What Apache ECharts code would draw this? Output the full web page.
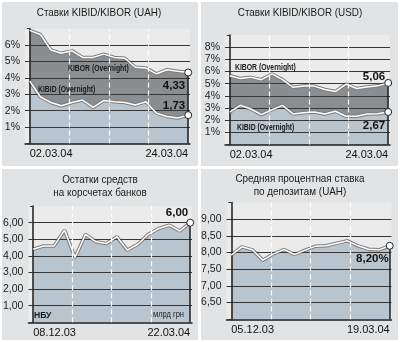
<!DOCTYPE html>
<html><head><meta charset="utf-8">
<script src="https://cdn.jsdelivr.net/npm/echarts@6/dist/echarts.min.js"></script>
<style>html,body{margin:0;padding:0;background:#fff}#c{width:400px;height:342px}</style>
</head><body><div id="c"></div>
<script>
// ---- data ----
const uahDates = ['02.03.04','03.03.04','04.03.04','05.03.04','09.03.04','10.03.04','11.03.04','12.03.04','15.03.04','16.03.04','17.03.04','18.03.04','19.03.04','22.03.04','23.03.04','24.03.04'];
const uahKibor = [6.9, 6.65, 5.7, 5.5, 5.65, 5.25, 5.25, 5.45, 5.25, 5.2, 4.65, 4.6, 4.25, 4.5, 4.4, 4.33];
const uahKibid = [3.8, 2.85, 2.5, 2.3, 2.5, 2.65, 2.2, 2.62, 2.55, 2.5, 2.35, 2.55, 1.85, 1.65, 1.55, 1.73];

const usdDates = ['02.03.04','03.03.04','04.03.04','05.03.04','09.03.04','10.03.04','11.03.04','12.03.04','15.03.04','16.03.04','17.03.04','18.03.04','19.03.04','22.03.04','23.03.04','24.03.04'];
const usdKibor = [5.65, 5.42, 5.52, 5.33, 5.8, 5.33, 4.7, 4.8, 4.8, 4.52, 4.35, 4.97, 4.6, 4.72, 4.82, 5.06];
const usdKibid = [2.67, 3.22, 2.92, 2.45, 2.86, 3.22, 2.51, 2.6, 2.67, 2.51, 2.73, 2.32, 2.32, 2.5, 2.52, 2.67];

const balDates = ['08.12.03','15.12.03','22.12.03','29.12.03','05.01.04','12.01.04','19.01.04','26.01.04','02.02.04','09.02.04','16.02.04','23.02.04','01.03.04','08.03.04','15.03.04','22.03.04'];
const balValues = [4.4, 4.6, 4.6, 5.55, 3.9, 5.3, 4.85, 4.75, 5.15, 4.35, 4.7, 5.3, 5.65, 5.85, 5.5, 6.00];

const depDates = ['05.12.03','12.12.03','19.12.03','26.12.03','02.01.04','09.01.04','16.01.04','23.01.04','30.01.04','06.02.04','13.02.04','20.02.04','27.02.04','05.03.04','12.03.04','19.03.04'];
const depValues = [7.92, 8.17, 8.08, 7.77, 7.96, 8.09, 7.94, 8.07, 8.19, 8.2, 8.28, 8.35, 8.2, 8.1, 8.08, 8.20];

const titles = ['Ставки KIBID/KIBOR (UAH)', 'Ставки KIBID/KIBOR (USD)', 'Остатки средств\nна корсчетах банков', 'Средняя процентная ставка\nпо депозитам (UAH)'];
const kiborName = 'KIBOR (Overnight)';
const kibidName = 'KIBID (Overnight)';

// ---- style ----
const F = "'Liberation Sans','Arial',sans-serif";
const DARK = '#8b8e91', BLUE = '#b8c4ce', PANEL = '#e1e3e5', PLOT = '#ebebeb';

const pairs = a => a.map((v, i) => [i, v]);
const comma = (v, d) => v.toFixed(d).replace('.', ',');

function mkGrid(left, top, width, height) {
  return {left, top, width, height, show: true, backgroundColor: PLOT, borderWidth: 0};
}
function mkX(gi, dates) {
  return {type: 'value', gridIndex: gi, min: -0.45, max: 15.17, z: 3,
    splitLine: {show: false}, axisTick: {show: false},
    axisLine: {show: true, onZero: false, lineStyle: {color: '#1e1e1e', width: 1.5}},
    axisLabel: {customValues: [0, dates.length - 1], formatter: v => dates[Math.round(v)],
      alignMinLabel: 'left', alignMaxLabel: 'right', fontFamily: F, fontSize: 11, color: '#111', margin: 5}};
}
function mkY(gi, min, max, interval, fmt) {
  return {type: 'value', gridIndex: gi, min, max, interval, z: 3,
    axisLine: {show: true, lineStyle: {color: '#1e1e1e', width: 1.5}},
    axisTick: {show: true, length: 3, lineStyle: {color: '#333'}},
    splitLine: {show: true, showMinLine: false, showMaxLine: false, lineStyle: {color: '#363636', width: 1}},
    axisLabel: {formatter: fmt, fontFamily: F, fontSize: 10.5, color: '#222', margin: 5}};
}
function dashSeries(gi, data) {
  const n = data.length - 1;
  return {type: 'line', xAxisIndex: gi, yAxisIndex: gi, data: pairs(data), z: 1, silent: true,
    symbol: 'none', lineStyle: {opacity: 0},
    markLine: {silent: true, symbol: 'none', label: {show: false},
      lineStyle: {color: '#fff', type: [5, 3], width: 1.2},
      data: [{xAxis: n / 4}, {xAxis: n / 2}, {xAxis: 3 * n / 4}]}};
}
function areaSeries(gi, data, color) {
  return {type: 'line', xAxisIndex: gi, yAxisIndex: gi, data: pairs(data), z: 2, silent: true,
    symbol: 'none', lineStyle: {color: '#7c7c7c', width: 3.5}, areaStyle: {color, opacity: 1}};
}
function whiteLine(gi, data, ymin, withDrop) {
  const n = data.length - 1;
  const s = {type: 'line', xAxisIndex: gi, yAxisIndex: gi, data: pairs(data), z: 4, silent: true,
    symbol: 'none', lineStyle: {color: '#fff', width: 1.5}};
  if (withDrop) {
    s.markLine = {silent: true, symbol: 'none', label: {show: false},
      lineStyle: {color: '#1e1e1e', width: 1.5, type: 'solid'},
      data: [[{coord: [n, data[n]]}, {coord: [n, ymin]}]]};
  }
  return s;
}
function endMarker(gi, data, offset, suffix) {
  const n = data.length - 1;
  return {type: 'scatter', xAxisIndex: gi, yAxisIndex: gi, data: [[n, data[n]]], z: 6, silent: true,
    symbol: 'circle', symbolSize: 7, itemStyle: {color: '#fff', borderColor: '#222', borderWidth: 1, opacity: 1},
    label: {show: true, position: 'inside', align: 'right', verticalAlign: 'middle', offset,
      formatter: p => comma(p.value[1], 2) + suffix, fontFamily: F, fontWeight: 'bold', fontSize: 11.5, color: '#111'}};
}
function txt(x, y, text, sx, opts) {
  return {type: 'text', x, y, z: 50, silent: true, scaleX: sx, scaleY: 1,
    style: Object.assign({text, fontFamily: F, fill: '#1a1a1a', verticalAlign: 'middle'}, opts || {})};
}
function rect(x, y, w, h, fill) {
  return {type: 'rect', shape: {x, y, width: w, height: h}, style: {fill}, z: -10, silent: true};
}

const chart = echarts.init(document.getElementById('c'), null, {renderer: 'canvas'});
chart.setOption({
  animation: false,
  backgroundColor: '#ffffff',
  grid: [
    mkGrid(25, 28.7, 165, 114.8),
    mkGrid(225, 35, 165, 109.5),
    mkGrid(26, 206.1, 166, 116.2),
    mkGrid(226.5, 202.4, 165, 116.9)
  ],
  xAxis: [mkX(0, uahDates), mkX(1, usdDates), mkX(2, balDates), mkX(3, depDates)],
  yAxis: [
    mkY(0, 0, 7, 1, v => (v > 0 && v < 7) ? v + '%' : ''),
    mkY(1, 0, 9, 1, v => (v > 0 && v < 9) ? v + '%' : ''),
    mkY(2, 0, 7, 1, v => (v > 0 && v < 7) ? comma(v, 2) : ''),
    mkY(3, 6, 9.5, 0.5, v => (v > 6 && v < 9.5) ? comma(v, 2) : '')
  ],
  graphic: [
    rect(2, 2, 196, 164, PANEL), rect(201, 2, 197, 164, PANEL),
    rect(2, 169, 196, 171, PANEL), rect(201, 169, 197, 171, PANEL),
    txt(99, 13, titles[0], 0.86, {fontSize: 11.5, align: 'center'}),
    txt(300, 13, titles[1], 0.86, {fontSize: 11.5, align: 'center'}),
    txt(100, 186.5, titles[2], 0.86, {fontSize: 11.5, align: 'center', lineHeight: 12.5}),
    txt(300, 185.5, titles[3], 0.86, {fontSize: 11.5, align: 'center', lineHeight: 12.5}),
    txt(68, 68.5, kiborName, 0.72, {fontSize: 9.5, fontWeight: 'bold'}),
    txt(38, 89, kibidName, 0.72, {fontSize: 9.5, fontWeight: 'bold'}),
    txt(235, 67.5, kiborName, 0.72, {fontSize: 9.5, fontWeight: 'bold'}),
    txt(237, 127, kibidName, 0.72, {fontSize: 9.5, fontWeight: 'bold'}),
    txt(34, 315.5, 'НБУ', 0.9, {fontSize: 9.5, fontWeight: 'bold'}),
    txt(184, 315, 'млрд грн', 0.88, {fontSize: 8.5, align: 'right'})
  ],
  series: [
    dashSeries(0, uahKibor),
    areaSeries(0, uahKibor, DARK),
    areaSeries(0, uahKibid, BLUE),
    whiteLine(0, uahKibor, 0, true),
    whiteLine(0, uahKibid, 0, false),
    endMarker(0, uahKibor, [-3, 13], ''),
    endMarker(0, uahKibid, [-3, -9.5], ''),

    dashSeries(1, usdKibor),
    areaSeries(1, usdKibor, DARK),
    areaSeries(1, usdKibid, BLUE),
    whiteLine(1, usdKibor, 0, true),
    whiteLine(1, usdKibid, 0, false),
    endMarker(1, usdKibor, [-3, -6], ''),
    endMarker(1, usdKibid, [-3, 14], ''),

    dashSeries(2, balValues),
    areaSeries(2, balValues, BLUE),
    whiteLine(2, balValues, 0, true),
    endMarker(2, balValues, [-2, -9.5], ''),

    dashSeries(3, depValues),
    areaSeries(3, depValues, BLUE),
    whiteLine(3, depValues, 6, true),
    endMarker(3, depValues, [-1, 13.5], '%')
  ]
});
</script></body></html>
